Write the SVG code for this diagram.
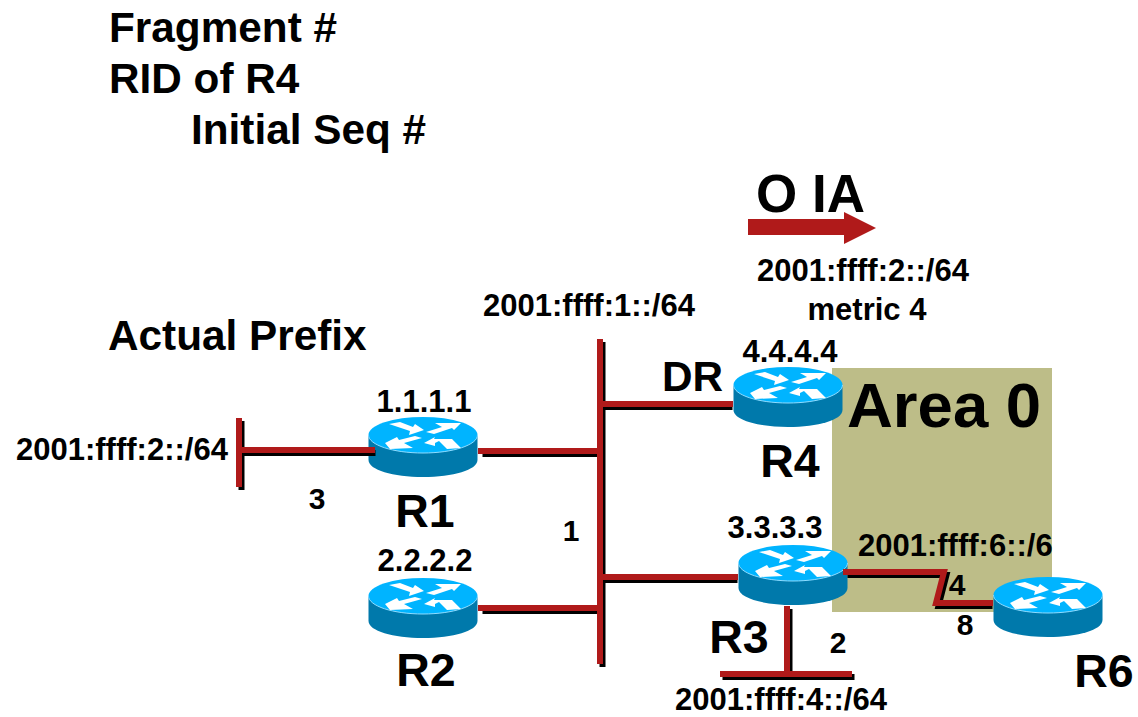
<svg xmlns="http://www.w3.org/2000/svg" width="1138" height="717" viewBox="0 0 1138 717">
<style>
text{font-family:"Liberation Sans",Arial,sans-serif;font-weight:700;fill:#000}
.h{font-size:42.300px}.l{font-size:31px}.d{font-size:30px}.n{font-size:46.500px}
.m{text-anchor:middle}
.k{fill:none;stroke:#000;stroke-width:6}
.r{fill:none;stroke:#b01a1a;stroke-width:6}
</style>
<defs>
<symbol id="router" overflow="visible" viewBox="-55 -19 110 62" width="110" height="62">
<path d="M-54.500 0V25C-54.500 35-30 42 0 42S54.500 35 54.500 25V0Z" fill="#0079ab"/>
<ellipse rx="54.500" ry="18" fill="#00b4ff"/>
<path d="M-54.500 0C-54.500 10-30 18 0 18S54.500 10 54.500 0" fill="none" stroke="#8fdcff" stroke-width="1"/>
<path fill="#fff" d="M-34-11-23-13-10-8-8-11 1-5-14 0-13-4ZM3-3 19-8 12-12 38-12 31-5 29-7 11-1ZM-38 8-26 2-24 5-8 1-1 3-19 8-10 13-33 14ZM1 8 12 2 11 4 29 4 38 13 24 14 16 6 12 8 12 11Z"/>
</symbol>
</defs>
<rect id="area-0-bg" x="832" y="368" width="220" height="244" fill="#bdbd88"/>
<g id="R1"><use href="#router" x="368" y="416"/><text class="l m" x="424" y="412">1.1.1.1</text><text class="n m" x="425" y="527">R1</text></g>
<g id="R2"><use href="#router" x="368" y="577"/><text class="l m" x="425" y="571">2.2.2.2</text><text class="n m" x="426" y="686">R2</text></g>
<g id="R3"><use href="#router" x="738" y="544"/><text class="l m" x="775" y="538">3.3.3.3</text><text class="n m" x="739" y="653">R3</text></g>
<g id="R4"><use href="#router" x="733" y="366"/><text class="l m" x="790" y="362">4.4.4.4</text><text class="n m" x="790" y="477">R4</text></g>
<g id="R6"><use href="#router" x="993" y="576"/><text class="n m" x="1104" y="687">R6</text></g>
<g id="connectors">
<g class="k" transform="translate(2.500 3)">
<path d="M600 339V664"/><path d="M600 404H730"/><path d="M600 577H735"/><path d="M480 451H600"/><path d="M480 608H600"/>
<path d="M239 418V487"/><path d="M239 450H373"/>
<path d="M845 572H944L936 603H990"/>
<path d="M787 606V674"/><path d="M720 674H852"/>
</g>
<g class="r">
<path d="M600 339V664"/><path d="M600 404H733"/><path d="M600 577H738"/><path d="M478 451H600"/><path d="M478 608H600"/>
<path d="M239 418V487"/><path d="M239 450H375"/>
<path d="M843 572H944L936 603H993"/>
<path d="M787 606V674"/><path d="M720 674H852"/>
</g>
<polygon id="oia-arrow" points="748,219 844,219 844,212 876,228 844,244 844,235 748,235" fill="#b01a1a"/>
</g>
<g id="labels">
<text class="h" x="109" y="42">Fragment #</text>
<text class="h" x="109" y="93">RID of R4</text>
<text class="h" x="191" y="144">Initial Seq #</text>
<text class="h" x="108" y="350">Actual Prefix</text>
<text x="756" y="212" style="font-size:53px">O IA</text>
<text class="l m" x="863" y="281">2001:ffff:2::/64</text>
<text class="l m" x="867" y="320">metric 4</text>
<text class="l m" x="589" y="316">2001:ffff:1::/64</text>
<text class="h" x="662" y="391">DR</text>
<text x="847" y="427" style="font-size:63.500px">Area 0</text>
<text class="l" x="16" y="460">2001:ffff:2::/64</text>
<text class="d m" x="317" y="509">3</text>
<text class="d m" x="571" y="541">1</text>
<text class="l" x="858" y="556">2001:ffff:6::/6</text>
<text class="d m" x="957" y="595">4</text>
<text class="d m" x="965" y="635">8</text>
<text class="d m" x="838" y="653">2</text>
<text class="l m" x="781" y="710">2001:ffff:4::/64</text>
</g>
</svg>
